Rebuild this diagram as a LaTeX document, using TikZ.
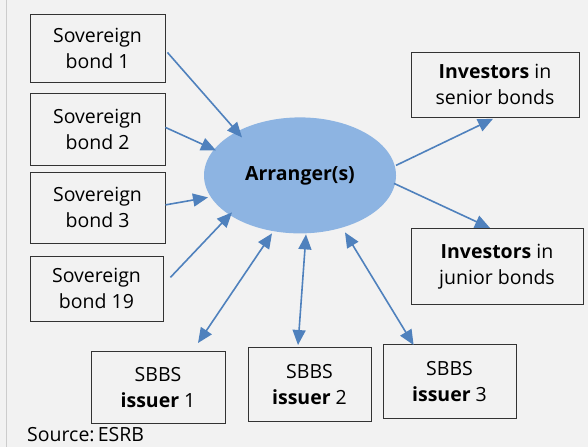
\documentclass[tikz,border=0pt]{standalone}
\usepackage{fontspec}
\setmainfont{Open Sans}
\usepackage{xcolor}
\usepackage{tikz}
\usetikzlibrary{arrows.meta, shapes.geometric}

\definecolor{paper}{HTML}{F2F2F2}
\definecolor{flowblue}{HTML}{4F81BD}
\definecolor{hubblue}{HTML}{8DB4E2}

\begin{document}
\begin{tikzpicture}[
  x=1pt, y=-1pt,
  party/.style={
    rectangle,
    draw=black!80,
    line width=0.8pt,
    fill=paper,
    align=center,
    inner sep=0pt,
    font=\fontsize{19.5}{26}\selectfont
  },
  hub/.style={
    ellipse,
    fill=hubblue,
    minimum width=192pt,
    minimum height=116pt,
    inner sep=0pt,
    font=\fontsize{19.5}{26}\selectfont\bfseries
  },
  flow/.style={
    -{Triangle[length=15pt,width=13pt]},
    line width=1.6pt,
    draw=flowblue
  },
  twoway/.style={
    {Triangle[length=15pt,width=13pt]}-{Triangle[length=15pt,width=13pt]},
    line width=1.6pt,
    draw=flowblue
  }
]
% Background and frame
\fill[paper] (0,0) rectangle (588,447);
\draw[black!20, line width=0.8pt] (6,0) -- (6,447);

% Central arranger
\node[hub] (arr) at (300,175) {Arranger(s)};

% Sovereign bonds
\node[party, minimum width=135pt, minimum height=68pt] (sb1) at (97.5,48) {Sovereign\\bond 1};
\node[party, minimum width=135pt, minimum height=72pt] (sb2) at (97.5,129) {Sovereign\\bond 2};
\node[party, minimum width=135pt, minimum height=71pt] (sb3) at (97.5,207.5) {Sovereign\\bond 3};
\node[party, minimum width=133pt, minimum height=65pt] (sb19) at (96.5,288.5) {Sovereign\\bond 19};

% SBBS issuers
\node[party, minimum width=134pt, minimum height=72pt] (is1) at (158,387) {SBBS\\\textbf{issuer} 1};
\node[party, minimum width=123pt, minimum height=74pt] (is2) at (309.5,384) {SBBS\\\textbf{issuer} 2};
\node[party, minimum width=133pt, minimum height=74pt] (is3) at (449.5,381) {SBBS\\\textbf{issuer} 3};

% Investors
\node[party, minimum width=168pt, minimum height=65pt] (sen) at (495,84.5) {\textbf{Investors} in\\senior bonds};
\node[party, minimum width=172pt, minimum height=76pt] (jun) at (497,266) {\textbf{Investors} in\\junior bonds};

% Bonds into the arranger
\draw[flow] ([shift={(2,4)}]sb1.east) -- ([shift={(-58,-38)}]arr.center);
\draw[flow] ([shift={(0,-2)}]sb2.east) -- ([shift={(-84,-25)}]arr.center);
\draw[flow] ([shift={(0,-3)}]sb3.east) -- ([shift={(-92,22)}]arr.center);
\draw[flow] ([shift={(7,-11.5)}]sb19.east) -- ([shift={(-68,37)}]arr.center);

% Issuers both ways
\draw[twoway] ([shift={(40,-8)}]is1.north) -- ([shift={(-28,58)}]arr.center);
\draw[twoway] ([shift={(-11.5,-2)}]is2.north) -- ([shift={(6,59)}]arr.center);
\draw[twoway] ([shift={(31,1)}]is3.north west) -- ([shift={(45,57)}]arr.center);

% Out to investors
\draw[flow] ([shift={(96,-10)}]arr.center) -- ([shift={(-2,1)}]sen.south);
\draw[flow] ([shift={(94,8)}]arr.center) -- ([shift={(-7,0)}]jun.north);

% Source line
\node[anchor=base west, inner sep=0pt, font=\fontsize{19.5}{22}\selectfont] (src) at (27,441) {Source:\,ESRB};

\useasboundingbox (0,0) rectangle (588,447);
\end{tikzpicture}
\end{document}
